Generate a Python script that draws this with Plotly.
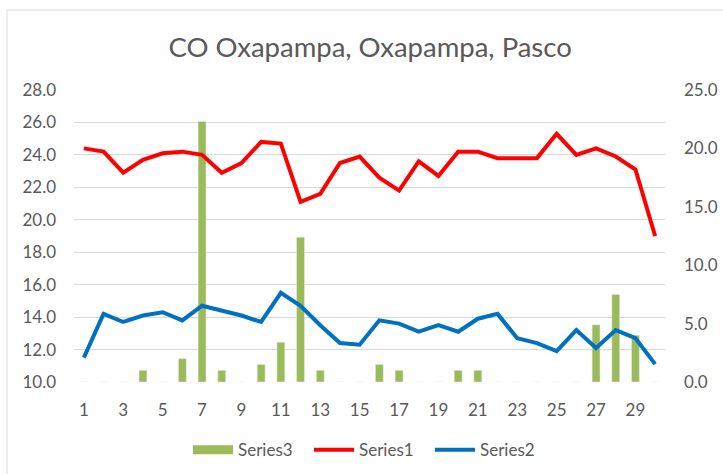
import plotly.graph_objects as go

days = list(range(1, 31))
series1 = [24.4, 24.2, 22.9, 23.7, 24.1, 24.2, 24.0, 22.9, 23.5, 24.8, 24.7, 21.1, 21.6, 23.5, 23.9,
           22.6, 21.8, 23.6, 22.7, 24.2, 24.2, 23.8, 23.8, 23.8, 25.3, 24.0, 24.4, 23.9, 23.1, 19.0]
series2 = [11.5, 14.2, 13.7, 14.1, 14.3, 13.8, 14.7, 14.4, 14.1, 13.7, 15.5, 14.7, 13.5, 12.4, 12.3,
           13.8, 13.6, 13.1, 13.5, 13.1, 13.9, 14.2, 12.7, 12.4, 11.9, 13.2, 12.1, 13.2, 12.7, 11.1]
series3 = [0, 0, 0, 1.0, 0, 2.0, 22.3, 1.0, 0, 1.5, 3.4, 12.4, 1.0, 0, 0,
           1.5, 1.0, 0, 0, 1.0, 1.0, 0, 0, 0, 0, 0, 4.9, 7.5, 4.0, 0]
x_ticks = list(range(1, 30, 2))
left_ticks = [10, 12, 14, 16, 18, 20, 22, 24, 26, 28]
right_ticks = [0, 5, 10, 15, 20, 25]

FONT = "Lato, 'DejaVu Sans', sans-serif"
GRAY = "#595959"
GREEN = "#9BBB59"

fig = go.Figure()
fig.add_trace(go.Bar(x=days, y=series3, name="Series3", marker_color=GREEN,
                     width=0.4, yaxis="y", legendgroup="s3", showlegend=False))
# legend entry for Series3 (wide swatch as in the reference)
fig.add_trace(go.Scatter(x=[None], y=[None], name="Series3", mode="lines",
                         line=dict(color=GREEN, width=9), legendgroup="s3",
                         yaxis="y", hoverinfo="skip"))
fig.add_trace(go.Scatter(x=days, y=series1, name="Series1", mode="lines",
                         line=dict(color="#FF0000", width=4), yaxis="y2"))
fig.add_trace(go.Scatter(x=days, y=series2, name="Series2", mode="lines",
                         line=dict(color="#0070C0", width=4), yaxis="y2"))

fig.update_layout(
    width=723, height=474,
    margin=dict(l=74, r=58, t=90, b=92, autoexpand=False),
    paper_bgcolor="white", plot_bgcolor="white",
    font=dict(family=FONT, color=GRAY, size=17),
    title=dict(text="CO Oxapampa, Oxapampa, Pasco", x=0.512, xanchor="center",
               yref="container", y=0.899, yanchor="middle",
               font=dict(size=27.5, color=GRAY, family=FONT)),
    xaxis=dict(range=[0.5, 30.5], tickvals=x_ticks, ticktext=[str(v) for v in x_ticks],
               showgrid=False, showline=False, zeroline=False, ticks="", automargin=False,
               ticklabelstandoff=16, tickfont=dict(size=17, color=GRAY)),
    yaxis=dict(side="right", range=[0, 25], tickvals=right_ticks, tickformat=".1f",
               showgrid=False, zeroline=False, showline=False, ticks="", automargin=False,
               ticklabelstandoff=18, tickfont=dict(size=17, color=GRAY)),
    yaxis2=dict(side="left", overlaying="y", range=[10, 28], tickvals=left_ticks,
                tickformat=".1f", showgrid=True, gridcolor="#D9D9D9", gridwidth=1,
                zeroline=False, showline=False, ticks="", automargin=False,
                ticklabelstandoff=17, tickfont=dict(size=17, color=GRAY)),
    legend=dict(orientation="h", x=0.5, xanchor="center", yref="container", y=0.05,
                yanchor="middle", font=dict(size=17, color=GRAY), traceorder="normal",
                itemwidth=40, entrywidth=66, bgcolor="rgba(0,0,0,0)"),
    showlegend=True,
)

fig.add_shape(type="rect", xref="paper", yref="paper", x0=-0.1134, x1=1.3,
              y0=-0.5, y1=1.274, line=dict(color="#D9D9D9", width=1), layer="below")

fig.write_html("out.html", config={"displayModeBar": False},
               post_script="document.body.style.margin='0';document.body.style.padding='0';")
